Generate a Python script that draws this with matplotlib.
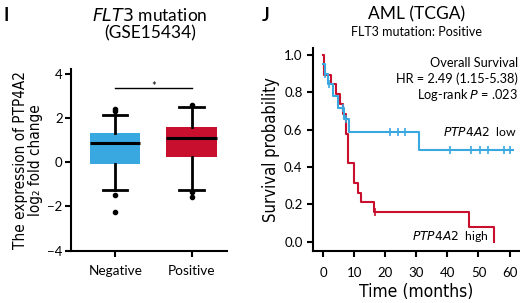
import matplotlib
matplotlib.use("Agg")
import matplotlib.pyplot as plt
from matplotlib import font_manager as fm

plt.rcParams['font.family'] = ['Lato', 'DejaVu Sans']

# ---------------- data: panel I (box plot) ----------------
groups = ["Negative", "Positive"]
box_q1 = [-0.06, 0.25]
box_med = [0.85, 1.08]
box_q3 = [1.34, 1.59]
box_whislo = [-1.27, -1.27]
box_whishi = [2.14, 2.50]
box_fliers = [[2.42, 2.32, -1.47, -2.23], [2.59, -1.35, -1.59]]
yticks_I = [-4, -2, 0, 2, 4]

# ---------------- data: panel J (Kaplan-Meier) ----------------
high_t = [0, 0.2, 2.6, 4.3, 5.4, 6.6, 7.4, 8.1, 10.0, 11.2, 12.1, 16.3, 47.1, 55.0]
high_s = [1.0, 0.895, 0.842, 0.789, 0.737, 0.684, 0.579, 0.421, 0.316, 0.263, 0.211, 0.158, 0.079, 0.0]
high_cens_t = [16.6]
high_cens_s = [0.158]

low_t = [0.1, 0.6, 1.5, 3.1, 4.7, 6.8, 8.4, 30.8, 61.0]
low_s = [0.95, 0.897, 0.843, 0.78, 0.718, 0.656, 0.59, 0.492, 0.492]
low_cens_t = [0.8, 1.8, 6.4, 7.5, 21.5, 24.1, 26.5, 40.8, 47.7, 50.5, 53.2, 58.3, 60.0]
low_cens_s = [0.897, 0.843, 0.718, 0.656, 0.59, 0.59, 0.59, 0.492, 0.492, 0.492, 0.492, 0.492, 0.492]
xticks_J = [0, 10, 20, 30, 40, 50, 60]
yticks_J = [0.0, 0.2, 0.4, 0.6, 0.8, 1.0]

BLUE = "#3aa8e0"
RED = "#c8102e"


def condensed_font(size):
    """Find an installed condensed/narrow sans font; fall back to Liberation Sans."""
    best = None
    for f in fm.fontManager.ttflist:
        name = f.name
        st = str(f.stretch)
        is_cond = ('Condensed' in name or 'Narrow' in name or
                   st in ('condensed', 'semi-condensed', 'extra-condensed') or
                   (st.isdigit() and int(st) < 500))
        if not is_cond:
            continue
        if 'Mono' in name or 'Serif' in name:
            continue
        w = f.weight if isinstance(f.weight, int) else (400 if f.weight in ('normal', 'regular', 'book') else 700)
        if f.style != 'normal' or w > 450 or w < 300:
            continue
        score = abs(w - 350)
        if best is None or score < best[0]:
            best = (score, f.fname)
    if best is not None:
        return fm.FontProperties(fname=best[1], size=size)
    return fm.FontProperties(family='Liberation Sans', size=size * 0.92)


fig = plt.figure(figsize=(5.2, 3.03), dpi=100)

# ---------------- panel I ----------------
axI = fig.add_axes([0.1365, 0.1726, 0.2994, 0.5987])
stats = []
for i, g in enumerate(groups):
    stats.append(dict(label=g, q1=box_q1[i], med=box_med[i], q3=box_q3[i],
                      whislo=box_whislo[i], whishi=box_whishi[i],
                      fliers=box_fliers[i]))
bp = axI.bxp(stats, positions=[0, 1], widths=0.66, patch_artist=True,
             boxprops=dict(linewidth=0),
             medianprops=dict(color="black", linewidth=2.2),
             whiskerprops=dict(color="black", linewidth=2.0),
             capprops=dict(color="black", linewidth=2.0),
             capwidths=0.32,
             flierprops=dict(marker="o", markersize=3, markerfacecolor="black",
                             markeredgecolor="black"))
for patch, c in zip(bp['boxes'], [BLUE, RED]):
    patch.set_facecolor(c)
    patch.set_edgecolor(c)
axI.set_xlim(-0.58, 1.46)
axI.set_ylim(-4, 4.2)
axI.set_yticks(yticks_I)
axI.set_yticklabels(["\u22124", "\u22122", "0", "2", "4"])
axI.set_xticks([0, 1])
axI.set_xticklabels(groups, fontsize=9.8)
axI.tick_params(axis='y', labelsize=9.5, length=4, width=1.5, pad=2)
axI.tick_params(axis='x', length=4, width=1.5, pad=6)
for s in ['top', 'right']:
    axI.spines[s].set_visible(False)
for s in ['left', 'bottom']:
    axI.spines[s].set_linewidth(1.5)
axI.set_ylabel("The expression of PTP4A2\nlog\u2082 fold change",
               fontproperties=condensed_font(11), linespacing=1.0, labelpad=3)
# significance bar
axI.plot([0, 1], [3.34, 3.34], color="black", linewidth=1.0)
axI.text(0.5, 3.18, "*", ha="center", va="bottom", fontsize=8)

fig.text(0.006, 0.95, "I", fontsize=13, fontweight="bold", va="center", ha="left")
fig.text(0.288, 0.95, "$\\it{FLT3}$ mutation", fontsize=12.5, ha="center", va="center")
fig.text(0.288, 0.891, "(GSE15434)", fontsize=12.5, ha="center", va="center")

# ---------------- panel J ----------------
axJ = fig.add_axes([0.6019, 0.1726, 0.396, 0.6706])
axJ.step(high_t, high_s, where="post", color=RED, linewidth=1.5)
axJ.plot(high_cens_t, high_cens_s, linestyle="none", marker="|", color=RED,
         markersize=6, markeredgewidth=1.2)
axJ.step(low_t, low_s, where="post", color=BLUE, linewidth=1.5)
axJ.plot(low_cens_t, low_cens_s, linestyle="none", marker="|", color=BLUE,
         markersize=6, markeredgewidth=1.2)
axJ.set_xlim(-3.2, 63)
axJ.set_ylim(-0.048, 1.04)
axJ.set_xticks(xticks_J)
axJ.set_yticks(yticks_J)
axJ.set_yticklabels([f"{v:.1f}" for v in yticks_J])
axJ.tick_params(axis='both', labelsize=9.5, length=4.5, width=1.5, pad=3)
axJ.tick_params(axis='x', pad=7)
for s in ['top', 'right']:
    axJ.spines[s].set_visible(False)
for s in ['left', 'bottom']:
    axJ.spines[s].set_linewidth(1.5)
axJ.set_xlabel("Time (months)", fontproperties=condensed_font(12.5), labelpad=3)
axJ.set_ylabel("Survival probability", fontproperties=condensed_font(12), labelpad=3)

fig.text(0.503, 0.95, "J", fontsize=13, fontweight="bold", va="center", ha="left")
fig.text(0.801, 0.953, "AML (TCGA)", fontsize=12.5, ha="center", va="center")
fig.text(0.801, 0.895, "FLT3 mutation: Positive", fontsize=9, ha="center", va="center")

fig.text(0.996, 0.792, "Overall Survival", fontsize=9.2, ha="right", va="center")
fig.text(0.996, 0.739, "HR = 2.49 (1.15-5.38)", fontsize=9.2, ha="right", va="center")
fig.text(0.996, 0.686, "Log-rank $\\it{P}$ = .023", fontsize=9.2, ha="right", va="center")
fig.text(0.994, 0.567, "$\\it{PTP4A2}$  low", fontsize=8.8, ha="right", va="center")
fig.text(0.940, 0.218, "$\\it{PTP4A2}$  high", fontsize=8.8, ha="right", va="center")

fig.savefig("out.png", dpi=100)
